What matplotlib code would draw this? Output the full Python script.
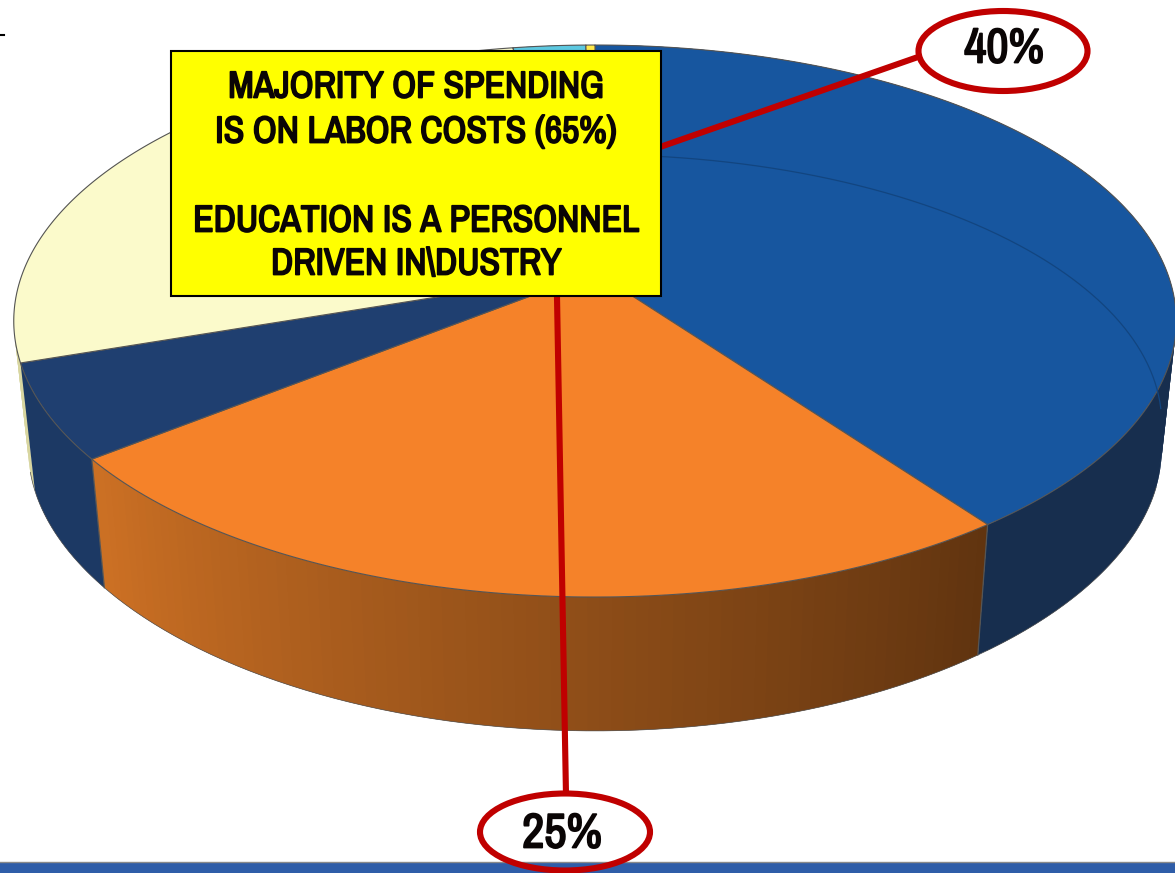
import numpy as np
import matplotlib
matplotlib.use('Agg')
import matplotlib.pyplot as plt
import matplotlib.font_manager as fm
import matplotlib.patheffects as pe
from matplotlib.collections import PolyCollection
from matplotlib.patches import Ellipse, Rectangle
from matplotlib.colors import to_rgb

# percent shares, clockwise from the top of the pie
slice_values = [40, 24.3, 5.5, 27.5, 2.4, 0.3]
top_colors = ['#17569F', '#F58229', '#1F3F70', '#FBFACB', '#5CC8E0', '#FFE94A']
side_from = ['#172E4E', '#CC7024', '#1C3964', '#D8D6A0', '#3A8FA5', '#B0A030']
side_to = ['#182F50', '#5F330F', '#1C3964', '#D8D6A0', '#3A8FA5', '#B0A030']
box_lines = ['MAJORITY OF SPENDING', 'IS ON LABOR COSTS (65%)', '',
             'EDUCATION IS A PERSONNEL', 'DRIVEN IN\\DUSTRY']
callouts = ['40%', '25%']

installed = {f.name for f in fm.fontManager.ttflist}
FONT = [f for f in ['Liberation Sans Narrow', 'Arial Narrow', 'Archivo Narrow', 'PT Sans Narrow',
                    'Roboto Condensed', 'Liberation Sans', 'DejaVu Sans'] if f in installed]
RED = '#C00000'
EDGE = '#555555'
INK = '#0A0505'

# perspective of the pie, in pixels
CX, CY = 595, 272
A, B, K = 572, 267.3, 0.1776
RIM_SCALE, RIM_Y, RIM_K = 0.975, 401, 0.21


def top_xy(deg, scale=1.0, cy=CY, k=K):
    t = np.radians(deg)
    return CX + scale * A * np.sin(t) / (1 + K * np.cos(t)), cy - scale * B * np.cos(t) / (1 + k * np.cos(t))


def rim_xy(deg):
    return top_xy(deg, RIM_SCALE, RIM_Y, RIM_K)


fig = plt.figure(figsize=(11.75, 8.73), dpi=100)
ax = fig.add_axes([0, 0, 1, 1])
ax.set_xlim(0, 1175)
ax.set_ylim(873, 0)
ax.axis('off')

# slide furniture
ax.add_patch(Rectangle((0, 862), 1175, 11, fc='#2F5DA8', ec='none', zorder=1))
ax.plot([0, 1175], [861.5, 861.5], color='#8A8A8A', lw=1, zorder=1)
ax.plot([0, 4], [35, 35], color='black', lw=1.5, zorder=1)

edges = 360 * np.cumsum([0] + slice_values) / sum(slice_values)
mids = (edges[:-1] + edges[1:]) / 2

# side wall, back slices first; strips overlap the previous one so no seams show
quads, colors = [], []
for i in np.argsort(-np.cos(np.radians(mids))):
    steps = np.linspace(edges[i], edges[i + 1], max(int(edges[i + 1] - edges[i]), 2))
    c0, c1 = np.array(to_rgb(side_from[i])), np.array(to_rgb(side_to[i]))
    for j in range(len(steps) - 1):
        a, b = steps[max(j - 1, 0)], steps[j + 1]
        wall = np.linspace(a, b, 4)
        xt, yt = top_xy(wall)
        xr, yr = rim_xy(wall[::-1])
        f = (j + 0.5) / (len(steps) - 1)
        # orange runs dark on the right, which is the start of its angle range
        quads.append(np.c_[np.r_[xt, xr], np.r_[yt, yr]])
        colors.append(tuple(c1 + (c0 - c1) * f))

ax.add_collection(PolyCollection(quads, facecolors=colors, edgecolors='none', zorder=2))

# wall seams and outer outline of the wall
for e in [edges[1], edges[2]]:
    xa, ya = top_xy(e)
    xb, yb = rim_xy(e)
    ax.plot([xa, xb], [ya, yb], color=EDGE, lw=0.9, zorder=3)
t_rim = np.linspace(108, 255, 300)
ax.plot(*rim_xy(t_rim), color=EDGE, lw=0.5, zorder=3)

# top faces
for i in range(len(slice_values)):
    t = np.linspace(edges[i], edges[i + 1], 200)
    xs, ys = top_xy(t)
    ax.fill(np.r_[CX, xs], np.r_[CY, ys], fc=top_colors[i], ec=EDGE, lw=0.8,
            joinstyle='round', zorder=4)

# faint inner arc visible through the blue slice, runs on over the wall
t_arc = np.linspace(5, 97, 200)
ax.plot(*top_xy(t_arc, RIM_SCALE, 376), color='#124580', lw=0.9, zorder=5)

# the narrow font has no usable bold here, so thicken it with a stroke
bold = [pe.withStroke(linewidth=1.3, foreground=INK)]

# callouts
ax.plot([660, 918], [147, 57], color=RED, lw=4.4, solid_capstyle='butt', zorder=6)
ax.plot([557, 566], [297, 795], color=RED, lw=4.4, solid_capstyle='butt', zorder=6)
ax.add_patch(Ellipse((1003, 51), 169, 80, fc='none', ec=RED, lw=4.4, zorder=7))
ax.add_patch(Ellipse((565, 832), 170, 77, fc='none', ec=RED, lw=4.4, zorder=7))
ax.text(1004, 49, callouts[0], family=FONT, weight='bold', size=35, color=INK,
        ha='center', va='center', zorder=8, path_effects=bold)
ax.text(562, 834, callouts[1], family=FONT, weight='bold', size=35, color=INK,
        ha='center', va='center', zorder=8, path_effects=bold)

# yellow note
ax.add_patch(Rectangle((171, 51), 490, 245, fc='#FFFF00', ec='black', lw=1.5, zorder=9))
line_y = [87, 132, 177, 221, 264]
for s, y in zip(box_lines, line_y):
    ax.text(416, y, s, family=FONT, weight='bold', size=27, color=INK,
            ha='center', va='center', zorder=10, path_effects=bold)

fig.savefig('out.png', dpi=100)
